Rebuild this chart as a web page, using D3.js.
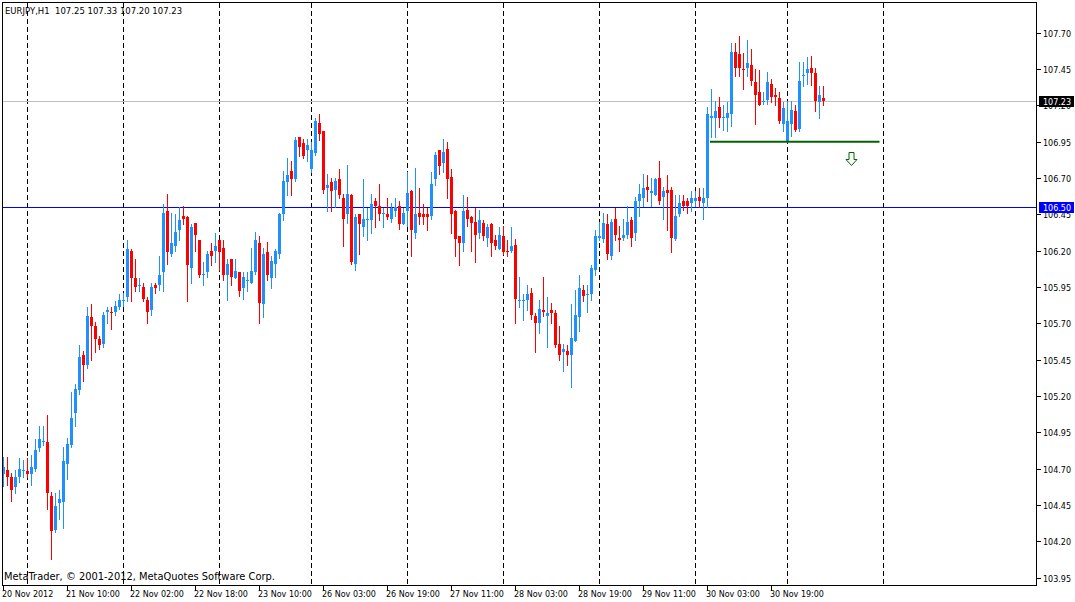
<!DOCTYPE html>
<html>
<head>
<meta charset="utf-8">
<script src="https://cdn.jsdelivr.net/npm/d3@7"></script>
<style>
  html, body { margin: 0; padding: 0; background: #fff; }
  svg { display: block; font-family: "DejaVu Sans", Tahoma, sans-serif; }
</style>
</head>
<body>
<svg id="chart" width="1075" height="602"></svg>
<script>
// EURJPY H1, 20 Nov 18:00 .. 3 Dec 09:00 (one entry per bar)
const symbol = 'EURJPY,H1';

const opens = [
  104.66,104.69,104.64,104.57,104.64,104.68,104.68,104.66,104.70,104.84,
  104.89,104.88,104.51,104.28,104.46,104.47,104.73,104.86,105.08,105.24,
  105.48,105.41,105.74,105.68,105.59,105.56,105.78,105.78,105.78,105.81,
  105.85,105.88,106.20,106.01,105.96,105.95,105.86,105.79,105.96,105.96,
  106.05,106.47,106.18,106.23,106.34,106.44,106.43,106.08,106.39,106.27,
  106.03,106.05,106.20,106.20,106.27,106.22,106.03,106.14,106.01,106.05,
  105.94,106.00,105.98,106.05,106.25,105.83,106.19,106.01,106.11,106.18,
  106.45,106.67,106.75,106.69,106.98,106.94,106.89,106.76,106.87,107.08,
  107.02,106.63,106.67,106.62,106.69,106.56,106.45,106.58,106.11,106.45,
  106.36,106.41,106.41,106.54,106.51,106.45,106.45,106.42,106.47,106.51,
  106.38,106.47,106.61,106.32,106.46,106.45,106.45,106.44,106.69,106.89,
  106.80,106.90,106.71,106.47,106.30,106.25,106.48,106.43,106.40,106.32,
  106.39,106.29,106.38,106.27,106.21,106.30,106.20,106.20,106.24,105.85,
  105.85,105.86,105.91,105.75,105.70,105.79,105.75,105.79,105.77,105.56,
  105.50,105.51,105.48,105.58,105.74,105.93,105.90,105.90,106.07,106.29,
  106.28,106.38,106.16,106.42,106.29,106.29,106.31,106.41,106.32,106.54,
  106.56,106.64,106.60,106.58,106.70,106.57,106.62,106.62,106.28,106.45,
  106.54,106.54,106.53,106.54,106.57,106.53,106.56,107.11,107.11,107.19,
  107.11,107.11,107.14,107.57,107.55,107.45,107.46,107.48,107.36,107.29,
  107.22,107.24,107.35,107.27,107.25,107.07,106.95,107.07,107.16,107.04,
  107.40,107.42,107.46,107.42,107.22,107.25
];
const highs = [
  104.78,104.78,104.67,104.69,104.77,104.76,104.77,104.79,104.90,104.99,
  104.99,105.07,104.54,104.53,104.55,104.85,104.91,105.23,105.28,105.55,
  105.51,105.81,105.83,105.71,105.61,105.78,105.81,105.81,105.85,105.90,
  105.91,106.27,106.21,106.14,106.01,105.98,105.88,105.98,105.98,106.16,
  106.52,106.59,106.46,106.45,106.50,106.51,106.44,106.38,106.39,106.27,
  106.12,106.20,106.25,106.32,106.27,106.27,106.14,106.14,106.14,106.05,
  106.05,106.05,106.22,106.33,106.30,106.22,106.26,106.16,106.21,106.46,
  106.75,106.84,106.82,106.98,106.98,106.97,106.97,106.95,107.11,107.14,
  107.02,106.73,106.70,106.70,106.76,106.59,106.79,106.59,106.45,106.45,
  106.69,106.49,106.59,106.56,106.66,106.49,106.56,106.53,106.56,106.54,
  106.49,106.74,106.62,106.77,106.63,106.52,106.49,106.74,106.88,106.89,
  106.97,106.95,106.76,106.48,106.30,106.58,106.57,106.44,106.49,106.48,
  106.41,106.38,106.39,106.31,106.36,106.37,106.27,106.36,106.28,106.02,
  105.90,105.96,105.94,105.77,105.86,106.02,105.88,105.84,105.79,105.68,
  105.56,105.55,105.83,105.93,106.03,105.96,105.96,106.10,106.34,106.40,
  106.46,106.45,106.42,106.49,106.37,106.42,106.51,106.43,106.57,106.66,
  106.73,106.72,106.70,106.70,106.82,106.64,106.72,106.64,106.58,106.58,
  106.58,106.56,106.61,106.61,106.63,106.63,107.19,107.31,107.23,107.26,
  107.20,107.22,107.63,107.63,107.68,107.56,107.65,107.59,107.45,107.44,
  107.29,107.43,107.38,107.32,107.29,107.22,107.23,107.23,107.20,107.50,
  107.50,107.53,107.54,107.46,107.33,107.33
];
const lows = [
  104.58,104.59,104.48,104.53,104.61,104.64,104.64,104.59,104.68,104.82,
  104.86,104.42,104.08,104.26,104.35,104.29,104.63,104.85,104.99,105.21,
  105.30,105.39,105.45,105.50,105.52,105.54,105.70,105.66,105.76,105.80,
  105.82,105.85,105.85,105.92,105.92,105.85,105.70,105.76,105.91,105.93,
  105.92,106.11,106.16,106.20,106.27,106.38,105.85,105.98,106.20,106.02,
  105.96,106.02,106.10,106.12,106.07,106.00,105.86,105.96,106.01,105.89,
  105.87,105.92,105.98,106.04,105.70,105.74,106.00,105.94,106.02,106.15,
  106.41,106.58,106.58,106.68,106.85,106.84,106.82,106.74,106.86,106.96,
  106.60,106.47,106.47,106.50,106.56,106.23,106.39,106.11,106.07,106.18,
  106.30,106.27,106.32,106.36,106.41,106.36,106.42,106.40,106.44,106.35,
  106.38,106.37,106.16,106.29,106.38,106.38,106.34,106.42,106.65,106.73,
  106.74,106.56,106.32,106.16,106.10,106.20,106.37,106.20,106.12,106.29,
  106.27,106.23,106.16,106.21,106.21,106.18,106.16,106.19,105.70,105.81,
  105.72,105.79,105.73,105.50,105.63,105.75,105.54,105.70,105.54,105.45,
  105.37,105.41,105.26,105.58,105.65,105.85,105.78,105.86,106.03,106.27,
  106.26,106.14,106.14,106.27,106.20,106.27,106.29,106.23,106.27,106.44,
  106.51,106.54,106.51,106.58,106.52,106.42,106.34,106.19,106.27,106.44,
  106.48,106.46,106.47,106.51,106.50,106.42,106.50,106.98,106.98,107.05,
  107.03,107.02,107.06,107.40,107.40,107.31,107.40,107.34,107.07,107.20,
  107.21,107.21,107.22,107.20,107.08,107.02,106.95,106.99,107.02,107.02,
  107.33,107.35,107.34,107.16,107.11,107.20
];
const closes = [
  104.71,104.64,104.55,104.64,104.70,104.69,104.66,104.71,104.83,104.90,
  104.89,104.53,104.27,104.44,104.49,104.75,104.87,105.05,105.25,105.47,
  105.41,105.75,105.68,105.59,105.55,105.76,105.79,105.77,105.82,105.86,
  105.86,106.21,106.01,105.95,105.96,105.87,105.78,105.95,105.94,106.03,
  106.46,106.19,106.25,106.33,106.41,106.42,106.10,106.36,106.31,106.03,
  106.04,106.18,106.16,106.23,106.19,106.03,106.11,106.02,106.06,105.92,
  106.02,106.00,106.06,106.27,105.84,106.18,106.03,106.13,106.20,106.45,
  106.68,106.72,106.69,106.96,106.91,106.85,106.93,106.89,107.09,107.00,
  106.62,106.65,106.61,106.68,106.58,106.42,106.59,106.12,106.43,106.38,
  106.42,106.42,106.52,106.51,106.45,106.46,106.43,106.49,106.50,106.38,
  106.46,106.60,106.34,106.45,106.43,106.43,106.43,106.66,106.86,106.78,
  106.88,106.69,106.45,106.28,106.25,106.47,106.42,106.39,106.31,106.41,
  106.30,106.36,106.25,106.23,106.31,106.19,106.19,106.23,105.87,105.86,
  105.86,105.90,105.76,105.70,105.80,105.78,105.77,105.77,105.55,105.48,
  105.52,105.48,105.60,105.76,105.94,105.89,105.90,106.08,106.30,106.30,
  106.39,106.18,106.40,106.31,106.27,106.31,106.40,106.29,106.54,106.59,
  106.63,106.62,106.61,106.69,106.54,106.61,106.60,106.29,106.44,106.53,
  106.51,106.51,106.56,106.56,106.54,106.56,107.14,107.13,107.16,107.11,
  107.12,107.15,107.57,107.46,107.46,107.44,107.49,107.37,107.27,107.20,
  107.23,107.36,107.26,107.26,107.09,107.18,107.09,107.17,107.03,107.37,
  107.41,107.45,107.42,107.23,107.27,107.23
];

// bar index of the first bar of each day (last one lies in the empty future area)
const daySeparators = [6, 30, 54, 77, 101, 125, 149, 173, 196, 220];

// time axis labels, one every 16 bars starting at bar 0
const timeLabels = [
  '20 Nov 2012', '21 Nov 10:00', '22 Nov 02:00', '22 Nov 18:00', '23 Nov 10:00',
  '26 Nov 03:00', '26 Nov 19:00', '27 Nov 11:00', '28 Nov 03:00', '28 Nov 19:00',
  '29 Nov 11:00', '30 Nov 03:00', '30 Nov 19:00'
];
const labelStep = 16;

const priceTicks = [
  103.95, 104.20, 104.45, 104.70, 104.95, 105.20, 105.45, 105.70,
  105.95, 106.20, 106.45, 106.70, 106.95, 107.20, 107.45, 107.70
];

const hLinePrice = 106.50;
const trendFrom = 177, trendTo = 219, trendPrice = 106.95;
const arrowBar = 212, arrowPrice = 106.88;

const bidPrice = closes[closes.length - 1];

// layout
const W = 1075, H = 602;
const plot = { left: 2.5, top: 2.5, right: 1036.5, bottom: 585.5 };
const BULL = '#1E90FF', BEAR = '#FF0000';

const svg = d3.select('#chart');

let x = d3.scaleLinear().domain([0, 1]).range([3.5, 7.5]);
let y = d3.scaleLinear().domain([103.95, 107.70]).range([577.5, 32.7]);

svg.append('rect').attr('width', W).attr('height', H).attr('fill', '#fff');

svg.append('defs').append('clipPath').attr('id', 'plotclip')
  .append('rect')
  .attr('x', plot.left).attr('y', plot.top)
  .attr('width', plot.right - plot.left).attr('height', plot.bottom - plot.top);

let g = svg.append('g').attr('clip-path', 'url(#plotclip)');

// period separators
g.selectAll('.sep').data(daySeparators).enter().append('line')
  .attr('class', 'sep')
  .attr('x1', d => x(d)).attr('x2', d => x(d))
  .attr('y1', plot.top).attr('y2', plot.bottom)
  .attr('stroke', '#000')
  .attr('stroke-dasharray', '5,3')
  .attr('shape-rendering', 'crispEdges');

// horizontal line and bid line
g.append('line')
  .attr('x1', plot.left).attr('x2', plot.right)
  .attr('y1', Math.round(y(hLinePrice)) + 0.5).attr('y2', Math.round(y(hLinePrice)) + 0.5)
  .attr('stroke', '#0000FF').attr('shape-rendering', 'crispEdges');
g.append('line')
  .attr('x1', plot.left).attr('x2', plot.right)
  .attr('y1', Math.round(y(bidPrice)) + 0.5).attr('y2', Math.round(y(bidPrice)) + 0.5)
  .attr('stroke', '#C0C0C0').attr('shape-rendering', 'crispEdges');

// candles
let bars = d3.range(opens.length).map(i => ({
  i: i, o: opens[i], h: highs[i], l: lows[i], c: closes[i]
}));

let candle = g.selectAll('.candle').data(bars).enter().append('g')
  .attr('class', 'candle')
  .attr('shape-rendering', 'crispEdges');

candle.append('line')
  .attr('x1', d => x(d.i)).attr('x2', d => x(d.i))
  .attr('y1', d => Math.round(y(d.h))).attr('y2', d => Math.round(y(d.l)) + 1)
  .attr('stroke', d => d.c >= d.o ? BULL : BEAR);

candle.append('rect')
  .attr('x', d => x(d.i) - 1.5)
  .attr('width', 3)
  .attr('y', d => Math.round(y(Math.max(d.o, d.c))))
  .attr('height', d => Math.max(1, Math.round(y(Math.min(d.o, d.c))) - Math.round(y(Math.max(d.o, d.c)))))
  .attr('fill', d => d.c >= d.o ? BULL : BEAR);

// trend line
g.append('line')
  .attr('x1', x(trendFrom) - 1.5).attr('x2', x(trendTo))
  .attr('y1', y(trendPrice)).attr('y2', y(trendPrice))
  .attr('stroke', '#006400').attr('stroke-width', 2);

// down arrow
let ax = x(arrowBar), ay = Math.round(y(arrowPrice)) + 0.5;
g.append('path')
  .attr('d', 'M' + (ax - 2.5) + ',' + ay + 'H' + (ax + 2.5) + 'V' + (ay + 7) +
    'H' + (ax + 5.5) + 'L' + ax + ',' + (ay + 13) + 'L' + (ax - 5.5) + ',' + (ay + 7) +
    'H' + (ax - 2.5) + 'Z')
  .attr('fill', '#fff').attr('stroke', '#006400');

// frame
svg.append('rect')
  .attr('x', plot.left).attr('y', plot.top)
  .attr('width', plot.right - plot.left).attr('height', plot.bottom - plot.top)
  .attr('fill', 'none').attr('stroke', '#000')
  .attr('shape-rendering', 'crispEdges');

// price axis
let py = svg.append('g').attr('font-size', '8px').attr('fill', '#000');
priceTicks.forEach(p => {
  let yy = Math.round(y(p)) + 0.5;
  py.append('line')
    .attr('x1', plot.right).attr('x2', plot.right + 4)
    .attr('y1', yy).attr('y2', yy)
    .attr('stroke', '#000').attr('shape-rendering', 'crispEdges');
  py.append('text').attr('x', 1043).attr('y', yy + 3.5).text(p.toFixed(2));
});

function priceBox(price, color) {
  let yy = Math.round(y(price)) + 0.5;
  py.append('rect')
    .attr('x', 1039).attr('y', yy - 5.5)
    .attr('width', 35).attr('height', 11)
    .attr('fill', color);
  py.append('text').attr('x', 1043).attr('y', yy + 3.5)
    .attr('fill', '#fff').text(price.toFixed(2));
}
priceBox(bidPrice, '#000');
priceBox(hLinePrice, '#0000FF');

// time axis
let tx = svg.append('g').attr('font-size', '8px').attr('fill', '#000');
timeLabels.forEach((lbl, k) => {
  let xx = x(k * labelStep);
  tx.append('line')
    .attr('x1', xx).attr('x2', xx)
    .attr('y1', plot.bottom).attr('y2', plot.bottom + 5)
    .attr('stroke', '#000').attr('shape-rendering', 'crispEdges');
  tx.append('text').attr('x', xx - 1.5).attr('y', 597).text(lbl);
});

// header and copyright
let last = bars[bars.length - 1];
svg.append('text')
  .attr('x', 5).attr('y', 14)
  .attr('font-size', '8.5px')
  .attr('xml:space', 'preserve')
  .text(symbol + '  ' + [last.o, last.h, last.l, last.c].map(v => v.toFixed(2)).join(' '));

svg.append('text')
  .attr('x', 4).attr('y', 580)
  .attr('font-size', '9.9px')
  .text('MetaTrader, \u00A9 2001-2012, MetaQuotes Software Corp.');
</script>
</body>
</html>
